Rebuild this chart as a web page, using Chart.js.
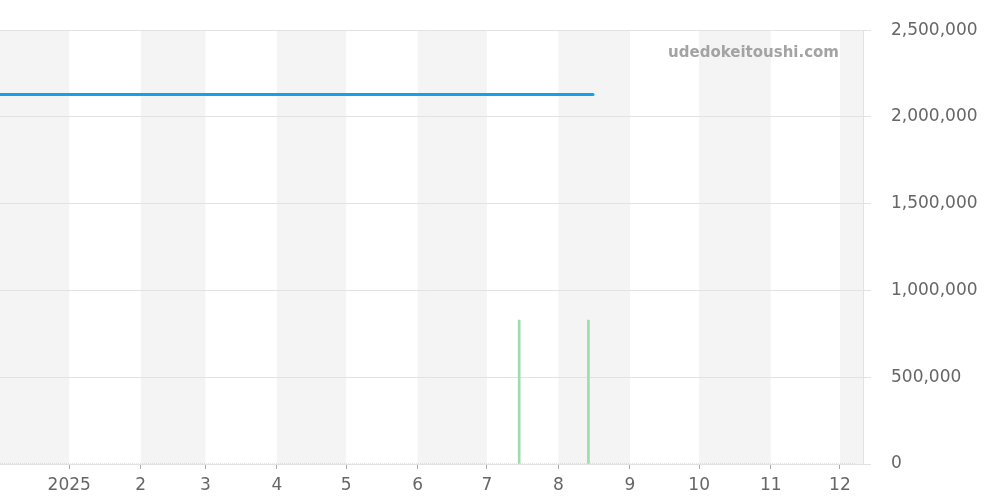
<!DOCTYPE html>
<html><head><meta charset="utf-8">
<style>html,body{margin:0;padding:0;background:#fff}#wrap{width:1000px;height:500px;position:relative}</style>
<script src="https://cdn.jsdelivr.net/npm/chart.js@4/dist/chart.umd.min.js"></script>
</head><body><div id="wrap"><canvas id="c" width="1000" height="500"></canvas></div>
<script>
// ---- data ----
const axisMin = '2024-12-02';
const axisMax = '2025-12-11';
const priceDates = ['2024-12-02', '2025-08-16'];
const priceValues = [2130000, 2130000];
const volumeDates = ['2025-07-15', '2025-08-14'];
const volumeValues = [830000, 830000];
const baseDates = ['2024-12-02', '2025-12-08'];
const baseValues = [0, 0];
const bandMonths = ['2024-12-01','2025-02-01','2025-04-01','2025-06-01','2025-08-01','2025-10-01','2025-12-01'];
const xTickDates = ['2025-01-01','2025-02-01','2025-03-01','2025-04-01','2025-05-01','2025-06-01','2025-07-01','2025-08-01','2025-09-01','2025-10-01','2025-11-01','2025-12-01'];
const yTicks = [0, 500000, 1000000, 1500000, 2000000, 2500000];
const watermark = 'udedokeitoushi.com';

Chart.defaults.font.family = 'DejaVu Sans';

function ts(s){const [y,m,d]=s.split('-').map(Number);return Date.UTC(y,m-1,d);}
function nextMonth(s){const [y,m]=s.split('-').map(Number);return Date.UTC(m===12?y+1:y, m===12?0:m, 1);}

const bandPlugin = {
  id:'bands',
  beforeDraw(chart){
    const {ctx, chartArea:a, scales:{x}} = chart;
    ctx.save();
    ctx.fillStyle = '#f4f4f4';
    bandMonths.forEach(m=>{
      let x0 = x.getPixelForValue(ts(m)), x1 = x.getPixelForValue(nextMonth(m));
      x0 = Math.max(x0, a.left); x1 = Math.min(x1, a.right);
      if (x1 > x0) ctx.fillRect(x0, a.top, x1-x0, a.bottom-a.top);
    });
    ctx.restore();
  },
  afterDatasetsDraw(chart){
    const {ctx, chartArea:a} = chart;
    ctx.save();
    ctx.font = 'bold 15px "DejaVu Sans"';
    ctx.fillStyle = '#a3a3a3';
    ctx.textAlign = 'right';
    ctx.textBaseline = 'middle';
    ctx.fillText(watermark, a.right - 24, a.top + 23);
    ctx.restore();
  }
};

const monthLabel = v => { const d = new Date(v); const m = d.getUTCMonth()+1; return m===1 ? String(d.getUTCFullYear()) : String(m); };

new Chart(document.getElementById('c'), {
  data:{
    datasets:[
      {type:'line', data: baseDates.map((d,i)=>({x:ts(d), y:baseValues[i]})), borderColor:'rgba(120,200,140,0.6)', borderWidth:1, borderDash:[1,1], pointRadius:0, order:3},
      {type:'bar', data: volumeDates.map((d,i)=>({x:ts(d), y:volumeValues[i]})), backgroundColor:'#9edcae', barThickness:2, order:2},
      {type:'line', data: priceDates.map((d,i)=>({x:ts(d), y:priceValues[i]})), borderColor:'#189fe6', borderWidth:3, pointRadius:0, borderCapStyle:'round', order:1}
    ]
  },
  options:{
    responsive:false, animation:false,
    layout:{padding:{top:30, right:0, left:0, bottom:0}},
    plugins:{legend:{display:false}, tooltip:{enabled:false}},
    scales:{
      x:{type:'linear', min:ts(axisMin), max:ts(axisMax), offset:false,
        afterBuildTicks(s){ s.ticks = xTickDates.map(d=>({value:ts(d)})); },
        afterFit(s){ s.height = 36; },
        grid:{display:true, offset:false, drawOnChartArea:false, drawTicks:true, tickLength:5, color:'#aaa'},
        border:{display:false},
        ticks:{callback:monthLabel, color:'#666', font:{family:'DejaVu Sans', size:17}, maxRotation:0, autoSkip:false, padding:6}
      },
      y:{position:'right', min:0, max:2500000,
        afterBuildTicks(s){ s.ticks = yTicks.map(v=>({value:v})); },
        afterFit(s){ s.width = 137; },
        grid:{color:'#e2e2e2', tickLength:8},
        border:{display:true, color:'#e2e2e2'},
        ticks:{callback:v=>v.toLocaleString('en-US'), color:'#666', font:{family:'DejaVu Sans', size:17}, padding:20}
      }
    }
  },
  plugins:[bandPlugin]
});
</script></body></html>
